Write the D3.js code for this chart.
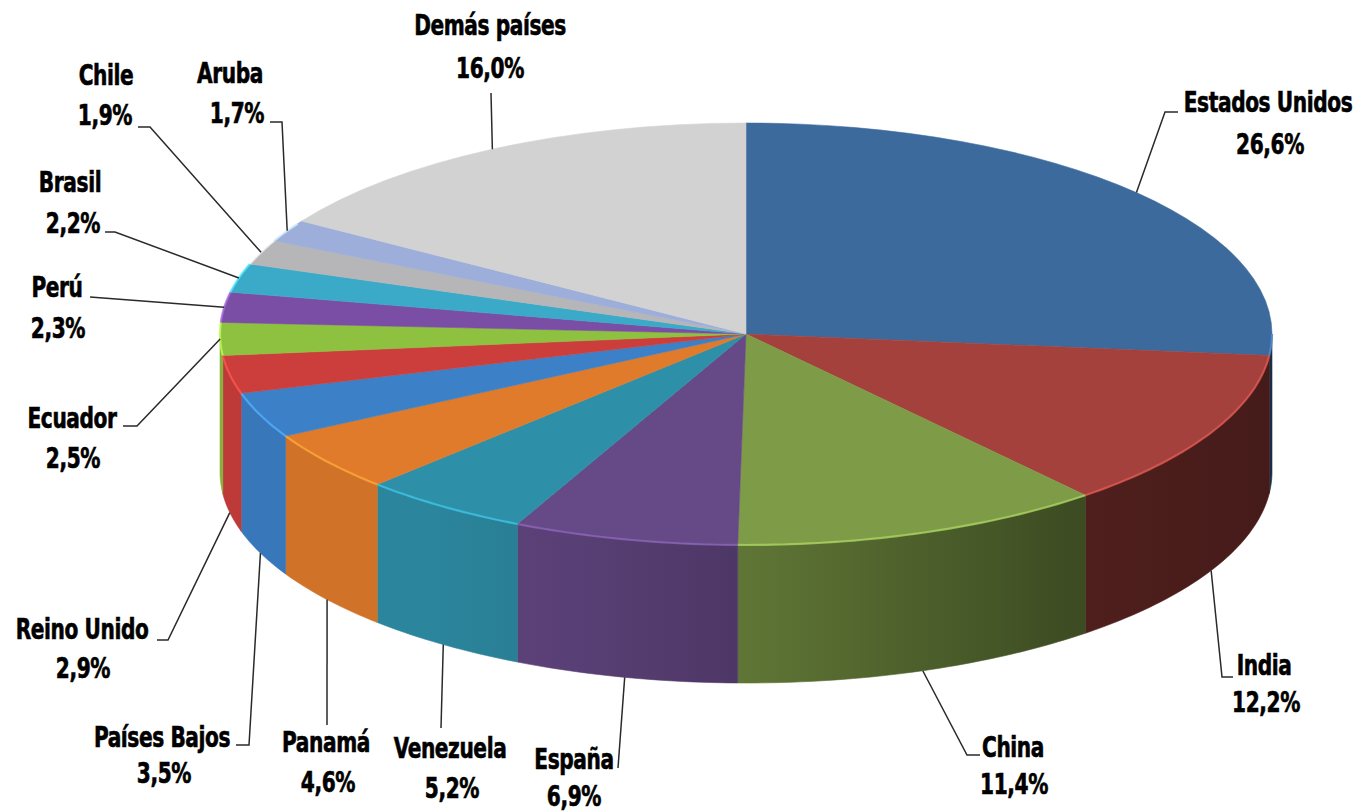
<!DOCTYPE html>
<html><head><meta charset="utf-8">
<script src="https://cdn.jsdelivr.net/npm/d3@7"></script>
<style>html,body{margin:0;padding:0;background:#fff;} svg{display:block;}</style>
</head><body>
<svg id="chart" width="1371" height="812"></svg>
<script>
// ---- data ----
const categories = ["Estados Unidos","India","China","España","Venezuela","Panamá","Países Bajos","Reino Unido","Ecuador","Perú","Brasil","Chile","Aruba","Demás países"];
const shares = [26.6,12.2,11.4,6.9,5.2,4.6,3.5,2.9,2.5,2.3,2.2,1.9,1.7,16.0];

// ---- styles ----
const topColors = ["#3d6a9d","#a5413c","#7e9c47","#664987","#2e8fa8","#e07b2b","#3c80c8","#cc3e3c","#8dc13f","#7b4ea5","#3aaac8","#b6b6b8","#9caed9","#d2d2d2"];

// ---- layout (label centres: line1 x,y, line2 x,y) ----
const labelPos = [
  [1268,102,1270,144],[1264,665,1266,702],[1013,747,1014,784],[574,759,574,796],
  [450,748,452,788],[326,742,328,782],[162,737,164,773],[82,629,83,668],
  [72,418,73,458],[57,287,58,328],[70,182,73,223],[106,75,105,115],
  [230,73,237,113],[490,25,490,68]
];
// leader bend/end points after the anchor on the pie
const leaderPts = [
  [[1165,112],[1178,112]],[[1222,677],[1233,677]],[[967,755],[980,755]],[[618,768]],
  [[441,728]],[[327,725]],[[249,745],[236,745]],[[168,640],[157,640]],
  [[137,426],[123,426]],[[90,297]],[[115,232],[105,232]],[[150,127],[138,127]],
  [[282,122],[270,122]],[[491,93]]
];

const cx = 746, cy = 334, rx = 526, ry = 211, depth = 138;
const textSquash = 0.8;

const svg = d3.select("#chart");
const defs = svg.append("defs");
const pie = d3.pie().sort(null).value(d => d).startAngle(0).endAngle(2*Math.PI);
const arcs = pie(shares);

const px = t => cx + rx*Math.sin(t);
const py = t => cy - ry*Math.cos(t);
const line = d3.line();
const fmt = d3.formatLocale({decimal: ",", thousands: ".", grouping: [3], currency: ["", "€"]}).format(".1f");

// side shading along x
const shadeStops = [[0,0.93],[0.2,0.93],[0.36,0.85],[0.5,0.75],[0.82,0.48],[1,0.42]];
arcs.forEach((d,i) => {
  const g = defs.append("linearGradient").attr("id","side"+i)
    .attr("gradientUnits","userSpaceOnUse")
    .attr("x1",cx-rx).attr("x2",cx+rx).attr("y1",0).attr("y2",0);
  shadeStops.forEach(s => g.append("stop").attr("offset",s[0])
    .attr("stop-color", d3.interpolateRgb("#000", topColors[i])(s[1])));
});

function sample(a,b){
  const n = Math.max(2, Math.ceil((b-a)/(Math.PI/180)));
  return d3.range(n+1).map(k => a + (b-a)*k/n);
}

// side walls (front half only)
const gSide = svg.append("g");
arcs.forEach((d,i) => {
  const a = Math.max(d.startAngle, Math.PI/2), b = Math.min(d.endAngle, 3*Math.PI/2);
  if (a >= b) return;
  const ts = sample(a,b);
  const pts = ts.map(t => [px(t), py(t)]).concat(ts.slice().reverse().map(t => [px(t), py(t)+depth]));
  gSide.append("path").attr("d", line(pts)+"Z").attr("fill","url(#side"+i+")")
    .attr("stroke","url(#side"+i+")").attr("stroke-width",0.6);
});

// top faces
const arcGen = d3.arc().innerRadius(0).outerRadius(rx);
svg.append("g").attr("transform",`translate(${cx},${cy}) scale(1,${ry/rx})`)
  .selectAll("path").data(arcs).join("path")
  .attr("d", arcGen).attr("fill",(d,i)=>topColors[i])
  .attr("stroke",(d,i)=>topColors[i]).attr("stroke-width",0.8);

// rim highlight
const gRim = svg.append("g");
arcs.forEach((d,i) => {
  const a = Math.max(d.startAngle, Math.PI/2), b = Math.min(d.endAngle, 3*Math.PI/2 + 0.55);
  if (a >= b) return;
  const pts = sample(a,b).map(t => [px(t), py(t)]);
  gRim.append("path").attr("d", line(pts)).attr("fill","none")
    .attr("stroke", d3.color(topColors[i]).brighter(0.9)).attr("stroke-width",2.2).attr("opacity",0.75);
});

// leaders
const gLead = svg.append("g");
arcs.forEach((d,i) => {
  const t = (d.startAngle + d.endAngle)/2;
  const anchor = [px(t), py(t) + (Math.cos(t) < -0.1 ? depth : 0)];
  gLead.append("path").attr("d", line([anchor].concat(leaderPts[i])))
    .attr("fill","none").attr("stroke","#2a2a2a").attr("stroke-width",1.5);
});

// labels
const gLab = svg.append("g")
  .attr("font-family","'Liberation Sans Narrow','Arial Narrow','DejaVu Sans Condensed',sans-serif")
  .attr("font-weight","bold").attr("font-size",28).attr("fill","#000")
  .attr("stroke","#000").attr("stroke-width",0.6)
  .attr("text-anchor","middle");
function addText(x, y, s){
  gLab.append("text").attr("transform",`translate(${x},${y}) scale(${textSquash},1)`)
    .attr("dy","0.36em").attr("letter-spacing",-0.5).text(s);
}
arcs.forEach((d,i) => {
  const p = labelPos[i];
  addText(p[0], p[1], categories[i]);
  addText(p[2], p[3], fmt(shares[i])+"%");
});
</script>
</body></html>
